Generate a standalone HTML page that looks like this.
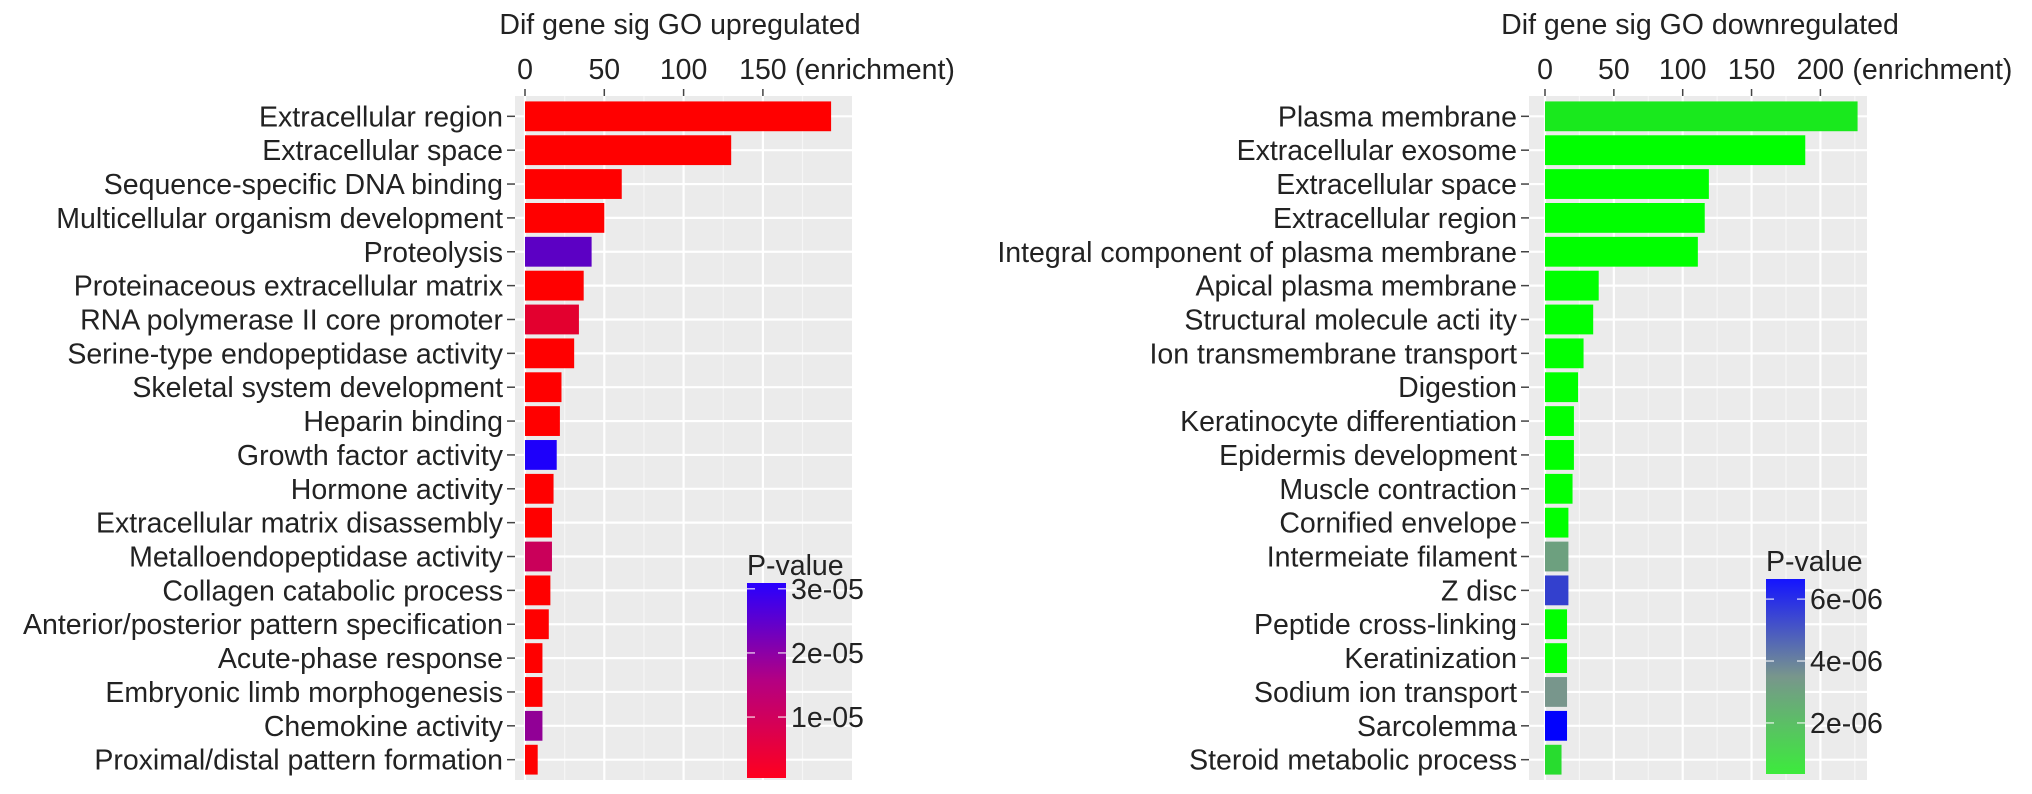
<!DOCTYPE html>
<html><head><meta charset="utf-8"><style>
html,body{margin:0;padding:0;background:#fff;}
svg{display:block;font-family:"Liberation Sans",sans-serif;}
</style></head><body>
<svg id="chart" width="2032" height="794" viewBox="0 0 2032 794"></svg>
<script>
const upCategories=["Extracellular region","Extracellular space","Sequence-specific DNA binding","Multicellular organism development","Proteolysis","Proteinaceous extracellular matrix","RNA polymerase II core promoter","Serine-type endopeptidase activity","Skeletal system development","Heparin binding","Growth factor activity","Hormone activity","Extracellular matrix disassembly","Metalloendopeptidase activity","Collagen catabolic process","Anterior/posterior pattern specification","Acute-phase response","Embryonic limb morphogenesis","Chemokine activity","Proximal/distal pattern formation"];
const upValues=[193,130,61,50,42,37,34,31,23,22,20,18,17,17,16,15,11,11,11,8];
const upPvalues=[0.05e-5,0.05e-5,0.05e-5,0.05e-5,2.5e-5,0.05e-5,0.7e-5,0.05e-5,0.05e-5,0.05e-5,3.09e-5,0.05e-5,0.05e-5,1.3e-5,0.05e-5,0.05e-5,0.05e-5,0.05e-5,2.0e-5,0.05e-5];
const upTicks=[0,50,100,150];
const upLegendTicks=[1e-5,2e-5,3e-5];
const upLegendLabels=["1e-05","2e-05","3e-05"];
const downCategories=["Plasma membrane","Extracellular exosome","Extracellular space","Extracellular region","Integral component of plasma membrane","Apical plasma membrane","Structural molecule acti  ity","Ion transmembrane transport","Digestion","Keratinocyte differentiation","Epidermis development","Muscle contraction","Cornified envelope","Intermeiate filament","Z disc","Peptide cross-linking","Keratinization","Sodium ion transport","Sarcolemma","Steroid metabolic process"];
const downValues=[227,189,119,116,111,39,35,28,24,21,21,20,17,17,17,16,16,16,16,12];
const downPvalues=[1.0e-6,0.35e-6,0.35e-6,0.35e-6,0.35e-6,0.35e-6,0.35e-6,0.35e-6,0.35e-6,0.35e-6,0.35e-6,0.35e-6,0.35e-6,3.2e-6,5.3e-6,0.35e-6,0.35e-6,3.5e-6,6.6e-6,1.4e-6];
const downTicks=[0,50,100,150,200];
const downLegendTicks=[2e-6,4e-6,6e-6];
const downLegendLabels=["2e-06","4e-06","6e-06"];

const NS="http://www.w3.org/2000/svg";
const svg=document.getElementById('chart');
const FS=28.5;
function mk(tag,attrs,parent){const e=document.createElementNS(NS,tag);for(const k in attrs)e.setAttribute(k,attrs[k]);(parent||svg).appendChild(e);return e;}
function lerp(a,b,t){return a.map((v,i)=>Math.round(v+(b[i]-v)*t));}
function gradColor(stops,t){t=Math.max(0,Math.min(1,t));const n=stops.length-1;const i=Math.min(n-1,Math.floor(t*n));const c=lerp(stops[i],stops[i+1],t*n-i);return `rgb(${c[0]},${c[1]},${c[2]})`;}

function panel(cfg){
  const g=mk('g',{});
  
  
  const L=cfg.left,R=cfg.right,T=96,B=780;
  const n=cfg.cats.length;
  const unit=(B-T)/(n+0.2);
  const yC=i=>T+(0.6+i)*unit;
  const x=v=>cfg.x0+v*cfg.ppu;
  const bg=mk('rect',{x:L,y:T,width:R-L,height:B-T,fill:'#ebebeb'},g);
  
  
  for(let k=0;k<cfg.ticks.length;k++){
    const mv=cfg.ticks[k]+25;
    if(x(mv)<R) mk('line',{x1:x(mv),x2:x(mv),y1:T,y2:B,stroke:'#f6f6f6','stroke-width':1.2},g);
  }
  cfg.ticks.forEach(t=>mk('line',{x1:x(t),x2:x(t),y1:T,y2:B,stroke:'#fff','stroke-width':2.2},g));
  cfg.cats.forEach((c,i)=>mk('line',{x1:L,x2:R,y1:yC(i),y2:yC(i),stroke:'#fff','stroke-width':2.2},g));
  const bh=unit*0.88;
  cfg.cats.forEach((c,i)=>{
    const b=mk('rect',{x:x(0),y:yC(i)-bh/2,width:x(cfg.vals[i])-x(0),height:bh,fill:gradColor(cfg.stops,(cfg.pv[i]-cfg.pmin)/(cfg.pmax-cfg.pmin))},g);
    
    
    const lab=mk('text',{x:L-12,y:yC(i)+10,'text-anchor':'end','font-size':FS,fill:'#222'},g);
    lab.textContent=c;
    
    
    mk('line',{x1:L-8,x2:L,y1:yC(i),y2:yC(i),stroke:'#444','stroke-width':1.5},g);
  });
  cfg.ticks.forEach((t,k)=>{
    mk('line',{x1:x(t),x2:x(t),y1:T-7,y2:T,stroke:'#444','stroke-width':1.5},g);
    const tl=mk('text',{x:x(t),y:T-17,'text-anchor':'middle','font-size':FS,fill:'#222'},g);
    tl.textContent=t;
    
    
  });
  const en=mk('text',{x:x(cfg.ticks[cfg.ticks.length-1])+cfg.enOff,y:T-17,'font-size':FS,fill:'#222'},g);
  en.textContent='(enrichment)';
  
  
  const ti=mk('text',{x:cfg.titleX,y:34,'text-anchor':'middle','font-size':FS,fill:'#222'},g);
  ti.textContent=cfg.title;
  
  
  const lg=mk('g',{},g);
  
  
  const gid=cfg.name+'-grad';
  const defs=mk('defs',{},lg);
  const lgr=mk('linearGradient',{id:gid,x1:0,y1:1,x2:0,y2:0},defs);
  cfg.legStops.forEach((s,i)=>mk('stop',{offset:i/(cfg.legStops.length-1),'stop-color':`rgb(${s[0]},${s[1]},${s[2]})`},lgr));
  const lx=cfg.legX,lt=cfg.legT,lb=cfg.legB;
  mk('rect',{x:lx,y:lt,width:39,height:lb-lt,fill:`url(#${gid})`},lg);
  const ly=p=>lb-(p-cfg.pmin)/(cfg.pmax-cfg.pmin)*(lb-lt);
  cfg.legTicks.forEach((p,i)=>{
    mk('line',{x1:lx,x2:lx+8,y1:ly(p),y2:ly(p),stroke:'#fff','stroke-opacity':0.7,'stroke-width':1.5},lg);
    mk('line',{x1:lx+31,x2:lx+39,y1:ly(p),y2:ly(p),stroke:'#fff','stroke-opacity':0.7,'stroke-width':1.5},lg);
    const t=mk('text',{x:lx+44,y:ly(p)+10,'font-size':FS,fill:'#222'},lg);
    t.textContent=cfg.legLabels[i];
    
    
  });
  const lt2=mk('text',{x:lx,y:lt-8,'font-size':FS,fill:'#222'},lg);
  lt2.textContent='P-value';
  
  
}
panel({name:'upregulated-panel',cats:upCategories,vals:upValues,pv:upPvalues,ticks:upTicks,left:515,right:852,x0:525,ppu:1.586,
  stops:[[255,0,0],[190,0,110],[30,0,250]],legStops:[[255,0,30],[180,0,130],[40,0,255]],pmin:0.05e-5,pmax:3.09e-5,title:'Dif gene sig GO upregulated',titleX:680,enOff:32,
  legX:747,legT:583,legB:778,legTicks:upLegendTicks,legLabels:upLegendLabels});
panel({name:'downregulated-panel',cats:downCategories,vals:downValues,pv:downPvalues,ticks:downTicks,left:1529,right:1867,x0:1545,ppu:1.377,
  stops:[[0,255,0],[120,150,140],[0,0,255]],legStops:[[60,235,60],[120,150,140],[20,20,255]],pmin:0.35e-6,pmax:6.65e-6,title:'Dif gene sig GO downregulated',titleX:1700,enOff:32,
  legX:1766,legT:579,legB:774,legTicks:downLegendTicks,legLabels:downLegendLabels});
</script>
</body></html>
